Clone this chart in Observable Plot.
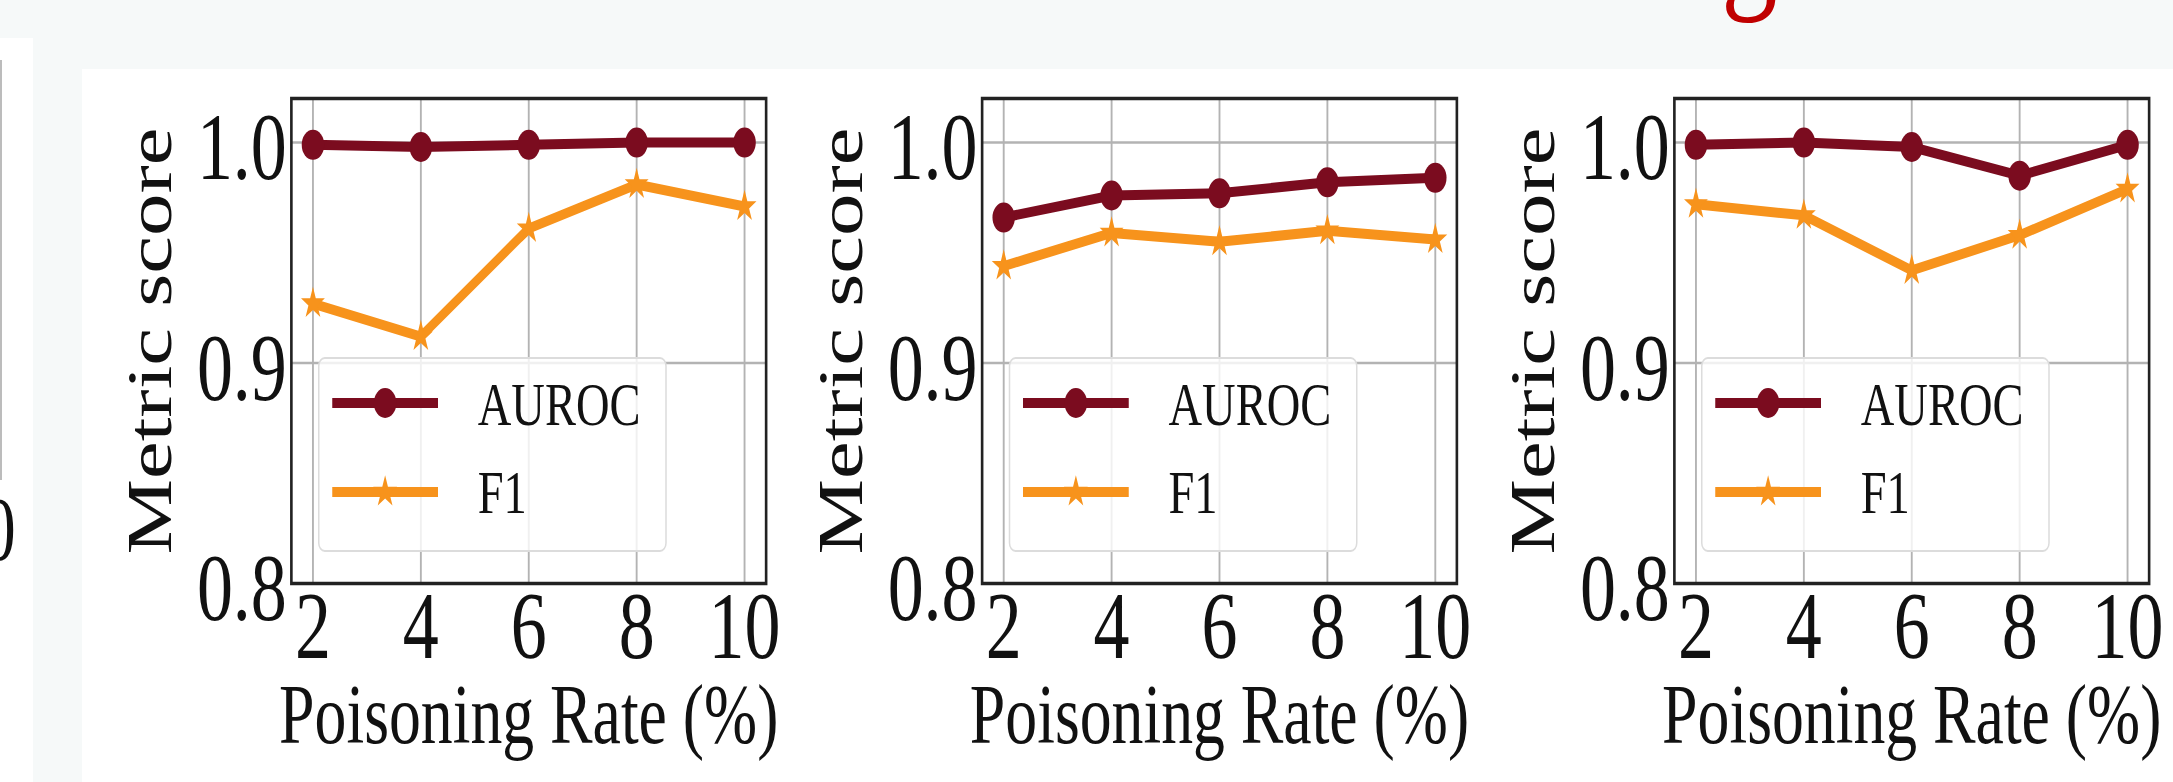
<!DOCTYPE html>
<html><head><meta charset="utf-8">
<script src="https://cdn.jsdelivr.net/npm/d3@7"></script>
<script src="https://cdn.jsdelivr.net/npm/@observablehq/plot@0.6"></script>
<style>
html,body{margin:0;padding:0;width:2173px;height:782px;overflow:hidden;background:#f6f9f9;font-family:"Liberation Serif",serif;}
#whiteL{position:absolute;left:0;top:38px;width:33px;height:744px;background:#fff;}
#edgeLine{position:absolute;left:0;top:60px;width:2px;height:420px;background:#bcbcbc;}
#whiteM{position:absolute;left:82px;top:69px;width:2091px;height:713px;background:#fff;}
#stage{position:absolute;left:0;top:0;width:2898px;height:782px;transform:scaleX(0.75);transform-origin:0 0;}
.panel{position:absolute;top:0;}
.legend{position:absolute;top:357px;width:465px;height:195px;box-sizing:border-box;background:rgba(255,255,255,0.8);border:2px solid #dcdcdc;border-radius:9px;}
.legend svg{position:absolute;left:-2px;top:-2px;overflow:visible;}
.frag{position:absolute;font-family:"Liberation Serif",serif;white-space:pre;line-height:1;}
</style></head>
<body>
<div id="whiteL"></div><div id="edgeLine"></div><div id="whiteM"></div>
<div id="stage"></div>
<script>
// ---- data ----
const rates = [2, 4, 6, 8, 10];
const seriesNames = ["AUROC", "F1"];
const yTicks = [0.8, 0.9, 1.0];
const xLabel = "Poisoning Rate (%)";
const yLabel = "Metric score";
const p1Auroc = [0.999, 0.998, 0.999, 1.000, 1.000];
const p1F1    = [0.927, 0.912, 0.961, 0.981, 0.971];
const p2Auroc = [0.966, 0.976, 0.977, 0.982, 0.984];
const p2F1    = [0.944, 0.959, 0.955, 0.960, 0.956];
const p3Auroc = [0.999, 1.000, 0.998, 0.985, 0.999];
const p3F1    = [0.972, 0.967, 0.942, 0.958, 0.979];
const colors = ["#7b0c1f", "#f7931c"];

// ---- layout (unstretched units; stage is scaled 0.75 horizontally) ----
const FONT = "Liberation Serif";
const FRAME_W = 633, ML = 260, MR = 50, MT = 98, MB = 199, H = 782;
const svgLefts = [128, 1049, 1972];
const stage = document.getElementById("stage");

function rows(vals) { return rates.map((r, i) => ({rate: r, v: vals[i]})); }

function panel(auroc, f1) {
  const A = rows(auroc), F = rows(f1);
  return Plot.plot({
    width: ML + FRAME_W + MR, height: H,
    marginLeft: ML, marginRight: MR, marginTop: MT, marginBottom: MB,
    style: {background: "transparent", maxWidth: "none", overflow: "visible", fontFamily: FONT, color: "#111"},
    x: {domain: [1.6, 10.4]},
    y: {domain: [0.8, 1.02]},
    marks: [
      Plot.gridX(rates, {stroke: "#b3b3b3", strokeOpacity: 1, strokeWidth: 2.5}),
      Plot.gridY(yTicks, {stroke: "#b3b3b3", strokeOpacity: 1, strokeWidth: 2.5}),
      Plot.line(A, {x: "rate", y: "v", stroke: colors[0], strokeWidth: 10}),
      Plot.dot(A, {x: "rate", y: "v", symbol: "circle", r: 15, fill: colors[0], stroke: "none"}),
      Plot.line(F, {x: "rate", y: "v", stroke: colors[1], strokeWidth: 10}),
      Plot.dot(F, {x: "rate", y: "v", symbol: "star", r: 10, fill: colors[1], stroke: "none"}),
      Plot.frame({stroke: "#222", strokeWidth: 3.5}),
      Plot.axisX(rates, {tickSize: 0, tickPadding: 6, fontSize: 96, fontFamily: FONT, label: null}),
      Plot.axisX({ticks: [], tickSize: 0, label: xLabel, labelAnchor: "center", labelArrow: "none", labelOffset: 159, fontSize: 85, fontFamily: FONT, fontWeight: "normal"}),
      Plot.axisY(yTicks, {tickSize: 0, tickPadding: 6, dy: 6, fontSize: 96, fontFamily: FONT, tickFormat: d3.format(".1f"), label: null}),
      Plot.axisY({ticks: [], tickSize: 0, label: yLabel, labelAnchor: "center", labelArrow: "none", labelOffset: 221, fontSize: 85, fontFamily: FONT, fontWeight: "normal"})
    ]
  });
}

function legend(left) {
  const div = document.createElement("div");
  div.className = "legend";
  div.style.left = left + "px";
  const svg = d3.create("svg").attr("width", 465).attr("height", 195);
  const ys = [46, 135], ty = [68, 156];
  seriesNames.forEach((name, i) => {
    svg.append("line").attr("x1", 19).attr("x2", 160).attr("y1", ys[i]).attr("y2", ys[i])
      .attr("stroke", colors[i]).attr("stroke-width", 10);
    if (i === 0) svg.append("circle").attr("cx", 89.5).attr("cy", ys[i]).attr("r", 15).attr("fill", colors[i]);
    else svg.append("path").attr("transform", `translate(89.5,${ys[i]})`)
      .attr("d", d3.symbol(d3.symbolStar, Math.PI * 100)()).attr("fill", colors[i]);
    svg.append("text").attr("x", 213).attr("y", ty[i]).attr("font-size", 62)
      .attr("font-family", FONT).attr("fill", "#111").text(name);
  });
  div.appendChild(svg.node());
  return div;
}

const data = [[p1Auroc, p1F1], [p2Auroc, p2F1], [p3Auroc, p3F1]];
data.forEach(([a, f], i) => {
  const el = panel(a, f);
  el.classList.add("panel");
  el.style.position = "absolute";
  el.style.left = svgLefts[i] + "px";
  el.style.top = "0px";
  stage.appendChild(el);
  stage.appendChild(legend(svgLefts[i] + ML + 36));
});

// cropped fragments at the screenshot edges
const g = document.createElement("div");
g.className = "frag"; g.textContent = "g";
g.style.cssText += "left:2295px;top:-135px;font-size:150px;color:#c00000;";
stage.appendChild(g);
const z = document.createElement("div");
z.className = "frag"; z.textContent = "0";
z.style.cssText += "left:-24px;top:485px;font-size:90px;color:#111;";
stage.appendChild(z);
</script>
</body></html>
